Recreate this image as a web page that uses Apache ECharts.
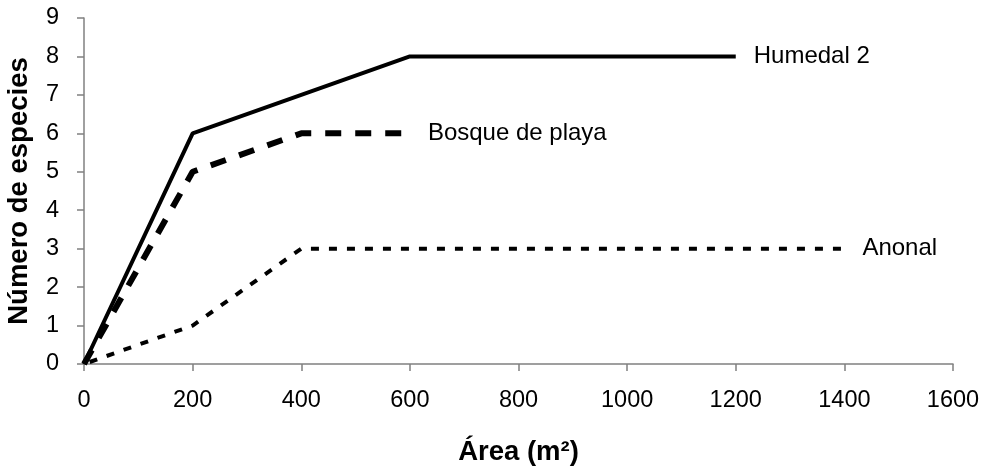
<!DOCTYPE html>
<html>
<head>
<meta charset="utf-8">
<script src="https://cdn.jsdelivr.net/npm/echarts@6/dist/echarts.min.js"></script>
<style>html,body{margin:0;padding:0;background:#fff}#c{width:984px;height:468px}</style>
</head>
<body>
<div id="c"></div>
<script>
const xHumedal = [0, 200, 400, 600, 1200];
const yHumedal = [0, 6, 7, 8, 8];
const xBosque = [0, 200, 400, 600];
const yBosque = [0, 5, 6, 6];
const xAnonal = [0, 200, 400, 1400];
const yAnonal = [0, 1, 3, 3];
const seriesNames = ['Humedal 2', 'Bosque de playa', 'Anonal'];
const xTitle = 'Área (m²)';
const yTitle = 'Número de especies';

const pairs = (xs, ys) => xs.map((x, i) => [x, ys[i]]);
const font = 'Liberation Sans, Arial, sans-serif';
const endLabel = {
  show: true, formatter: '{a}', distance: 18, fontSize: 24, color: '#000', fontFamily: font
};

const chart = echarts.init(document.getElementById('c'), null, {renderer: 'canvas'});
chart.setOption({
  animation: false,
  backgroundColor: '#fff',
  grid: {left: 84, right: 31, top: 18, bottom: 104, containLabel: false, outerBoundsMode: 'none'},
  xAxis: {
    type: 'value', min: 0, max: 1600, interval: 200,
    name: xTitle, nameLocation: 'middle', nameGap: 74,
    nameTextStyle: {fontSize: 27.5, fontWeight: 'bold', color: '#000', fontFamily: font},
    axisLine: {show: true, lineStyle: {color: '#808080', width: 1.5}},
    axisTick: {show: true, length: 7, lineStyle: {color: '#808080', width: 1.5}},
    axisLabel: {fontSize: 23.5, color: '#000', margin: 25, fontFamily: font, formatter: v => String(v)},
    splitLine: {show: false}
  },
  yAxis: {
    type: 'value', min: 0, max: 9, interval: 1,
    name: yTitle, nameLocation: 'middle', nameGap: 51,
    nameTextStyle: {fontSize: 27.5, fontWeight: 'bold', color: '#000', fontFamily: font},
    axisLine: {show: true, lineStyle: {color: '#808080', width: 1.5}},
    axisTick: {show: true, length: 7, lineStyle: {color: '#808080', width: 1.5}},
    axisLabel: {fontSize: 23.5, color: '#000', margin: 25, fontFamily: font},
    splitLine: {show: false}
  },
  series: [
    {
      name: seriesNames[0], type: 'line', data: pairs(xHumedal, yHumedal),
      showSymbol: false, symbol: 'none',
      lineStyle: {color: '#000', width: 4, type: 'solid'},
      endLabel: endLabel
    },
    {
      name: seriesNames[1], type: 'line', data: pairs(xBosque, yBosque),
      showSymbol: false, symbol: 'none',
      lineStyle: {color: '#000', width: 6, type: [16, 14]},
      endLabel: endLabel
    },
    {
      name: seriesNames[2], type: 'line', data: pairs(xAnonal, yAnonal),
      showSymbol: false, symbol: 'none',
      lineStyle: {color: '#000', width: 4, type: [8, 10], dashOffset: 12},
      endLabel: endLabel
    }
  ]
});
</script>
</body>
</html>
